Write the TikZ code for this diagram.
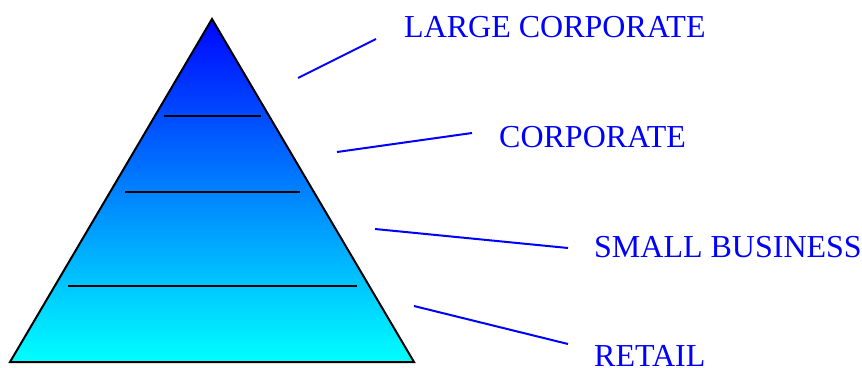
\documentclass[tikz,border=0pt]{standalone}
\usepackage{fontspec}
\setmainfont{Liberation Serif}
\begin{document}
\begin{tikzpicture}[x=1pt,y=-1pt,
  tier/.style={draw=black,line width=2pt},
  pointer/.style={draw=blue,line width=2pt},
  label/.style={text=blue,anchor=base west,inner sep=0pt,font=\fontsize{32}{36}\selectfont}]
\useasboundingbox (0,0) rectangle (862,367);
\clip (0,0) rectangle (862,367);
% pyramid body with vertical gradient
\coordinate (apex) at (212,19);
\coordinate (bl) at (10,362);
\coordinate (br) at (414,362);
\shade[top color=blue!98!cyan,bottom color=cyan] (apex) -- (br) -- (bl) -- cycle;
\draw[line width=2pt,line join=miter] (apex) -- (br) -- (bl) -- cycle;
% tier dividers
\coordinate (d1l) at (164,116); \coordinate (d1r) at (261,116);
\coordinate (d2l) at (125,192); \coordinate (d2r) at (300,192);
\coordinate (d3l) at (68,286);  \coordinate (d3r) at (357,286);
\draw[tier] (d1l) -- (d1r);
\draw[tier] (d2l) -- (d2r);
\draw[tier] (d3l) -- (d3r);
% labels
\node[label] (lc) at (404,37) {LARGE CORPORATE};
\node[label] (co) at (499,147) {CORPORATE};
\node[label] (sb) at (594,257) {SMALL BUSINESS};
\node[label] (rt) at (594,366) {RETAIL};
% pointer lines
\coordinate (p1a) at (298,78);  \coordinate (p1b) at (376,39);
\coordinate (p2a) at (337,152); \coordinate (p2b) at (472,133);
\coordinate (p3a) at (375,229); \coordinate (p3b) at (568,248);
\coordinate (p4a) at (414,306); \coordinate (p4b) at (568,344);
\draw[pointer] (p1a) -- (p1b);
\draw[pointer] (p2a) -- (p2b);
\draw[pointer] (p3a) -- (p3b);
\draw[pointer] (p4a) -- (p4b);
\end{tikzpicture}
\end{document}
